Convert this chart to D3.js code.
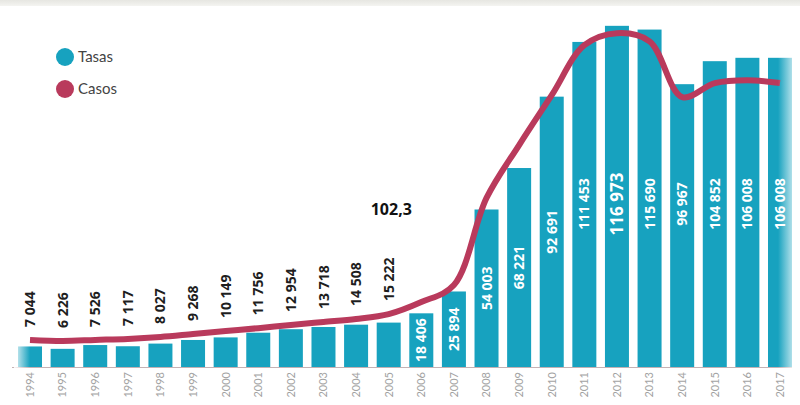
<!DOCTYPE html>
<html>
<head>
<meta charset="utf-8">
<script src="https://cdn.jsdelivr.net/npm/d3@7"></script>
<style>
  html, body { margin: 0; padding: 0; background: #fff; }
  svg { display: block; }
</style>
</head>
<body>
<svg id="chart" width="800" height="405"></svg>
<script>
// Years on the x axis
const years = ["1994","1995","1996","1997","1998","1999","2000","2001","2002","2003","2004","2005",
               "2006","2007","2008","2009","2010","2011","2012","2013","2014","2015","2016","2017"];
// Bar series (values printed on the bars)
const tasas = [7044, 6226, 7526, 7117, 8027, 9268, 10149, 11756, 12954, 13718, 14508, 15222,
               18406, 25894, 54003, 68221, 92691, 111453, 116973, 115690, 96967, 104852, 106008, 106008];
// Line series
const casos = [8.3, 8.0, 8.3, 8.6, 9.2, 10.1, 11.0, 11.9, 12.9, 13.8, 14.7, 16.2,
               19.9, 25.1, 51.8, 68.0, 83.3, 98.6, 102.3, 99.8, 82.7, 87.0, 87.9, 87.0];
const legendItems = ["Tasas", "Casos"];
const annotation = "102,3";

const W = 800, H = 405;
const teal = "#17a2bf", rose = "#b93a5c";
const fmt = v => d3.format(",")(v).replace(/,/g, " ");

const svg = d3.select("#chart");
const defs = svg.append("defs");

// soft grey band along the top edge
const topGrad = defs.append("linearGradient").attr("id", "topBand")
  .attr("x1", 0).attr("y1", 0).attr("x2", 0).attr("y2", 1);
topGrad.append("stop").attr("offset", "0%").attr("stop-color", "#e6e6e1");
topGrad.append("stop").attr("offset", "100%").attr("stop-color", "#f4f4f1");
svg.append("rect").attr("x", 0).attr("y", 0).attr("width", W).attr("height", 6)
  .attr("fill", "url(#topBand)");

const x = d3.scaleBand().domain(years).range([13.7, 796.3])
  .paddingInner(0.264).paddingOuter(0.132);
const y = d3.scaleLinear().domain([0, 120000]).range([367, 17]);
const yR = d3.scaleLinear().domain([0, 110]).range([367, 8]);

// baseline
svg.append("line").attr("x1", 12).attr("x2", 792)
  .attr("y1", y(0) + 0.5).attr("y2", y(0) + 0.5)
  .attr("stroke", "#c4b2b4").attr("stroke-width", 1);

// bars
svg.append("g").selectAll("rect").data(tasas).join("rect")
  .attr("x", (d, i) => x(years[i]))
  .attr("y", d => y(d))
  .attr("width", x.bandwidth())
  .attr("height", d => y(0) - y(d))
  .attr("fill", teal);

// year labels
const xAxis = svg.append("g").attr("transform", `translate(0,${y(0)})`)
  .call(d3.axisBottom(x).tickSize(0).tickPadding(0));
xAxis.select(".domain").remove();
xAxis.selectAll("text")
  .attr("transform", "rotate(-90)")
  .attr("x", -5).attr("y", 0).attr("dy", "0.35em")
  .attr("text-anchor", "end")
  .attr("fill", "#a3a3a3")
  .style("font-family", "Lato, 'Open Sans', sans-serif")
  .style("font-size", "11px");

// line
const line = d3.line()
  .x((d, i) => x(years[i]) + x.bandwidth() / 2)
  .y(d => yR(d))
  .curve(d3.curveCatmullRom.alpha(0.5));
svg.append("path").datum(casos)
  .attr("d", line)
  .attr("fill", "none")
  .attr("stroke", rose)
  .attr("stroke-width", 6)
  .attr("stroke-linejoin", "round");

// value labels
const labels = svg.append("g")
  .style("font-family", "'Open Sans', Lato, sans-serif")
  .style("font-weight", "700");

tasas.forEach((v, i) => {
  const cx = x(years[i]) + x.bandwidth() / 2;
  const inside = i >= 12;
  const big = v === d3.max(tasas);
  const t = labels.append("text")
    .text(fmt(v))
    .style("font-size", big ? "17px" : "14px")
    .attr("fill", inside ? "#ffffff" : "#1e1e1e")
    .attr("dy", "0.36em")
    .attr("text-anchor", "middle");
  const half = t.node().getComputedTextLength() / 2;
  let cy;
  if (!inside) {
    cy = yR(casos[i]) - 13 - half;
  } else {
    const mid = (y(v) + y(0)) / 2;
    cy = v >= 95000 ? 204 : Math.min(mid, y(0) - 5 - half);
  }
  t.attr("transform", `translate(${cx},${cy}) rotate(-90)`);
});

// annotation
svg.append("text").text(annotation)
  .attr("x", x("2005") - 6).attr("y", 215)
  .attr("fill", "#111")
  .style("font-family", "'Open Sans', Lato, sans-serif")
  .style("font-weight", "700")
  .style("font-size", "16px");

// legend
const legend = svg.append("g").attr("transform", "translate(65,57)");
legendItems.forEach((name, i) => {
  const g = legend.append("g").attr("transform", `translate(0,${i * 32})`);
  g.append("circle").attr("r", 9).attr("fill", i === 0 ? teal : rose);
  g.append("text").text(name)
    .attr("x", 13).attr("dy", "0.35em")
    .attr("fill", "#444")
    .style("font-family", "Lato, 'Open Sans', sans-serif")
    .style("font-size", "15px");
});

// white fades along the side edges
const fadeL = defs.append("linearGradient").attr("id", "fadeL");
fadeL.append("stop").attr("offset", "0%").attr("stop-color", "#fff").attr("stop-opacity", 0.9);
fadeL.append("stop").attr("offset", "100%").attr("stop-color", "#fff").attr("stop-opacity", 0);
svg.append("rect").attr("x", 14).attr("y", 330).attr("width", 16).attr("height", 40)
  .attr("fill", "url(#fadeL)");
const fadeR = defs.append("linearGradient").attr("id", "fadeR");
fadeR.append("stop").attr("offset", "0%").attr("stop-color", "#fff").attr("stop-opacity", 0);
fadeR.append("stop").attr("offset", "100%").attr("stop-color", "#fff").attr("stop-opacity", 0.75);
svg.append("rect").attr("x", 778).attr("y", 6).attr("width", 16).attr("height", 362)
  .attr("fill", "url(#fadeR)");
</script>
</body>
</html>
